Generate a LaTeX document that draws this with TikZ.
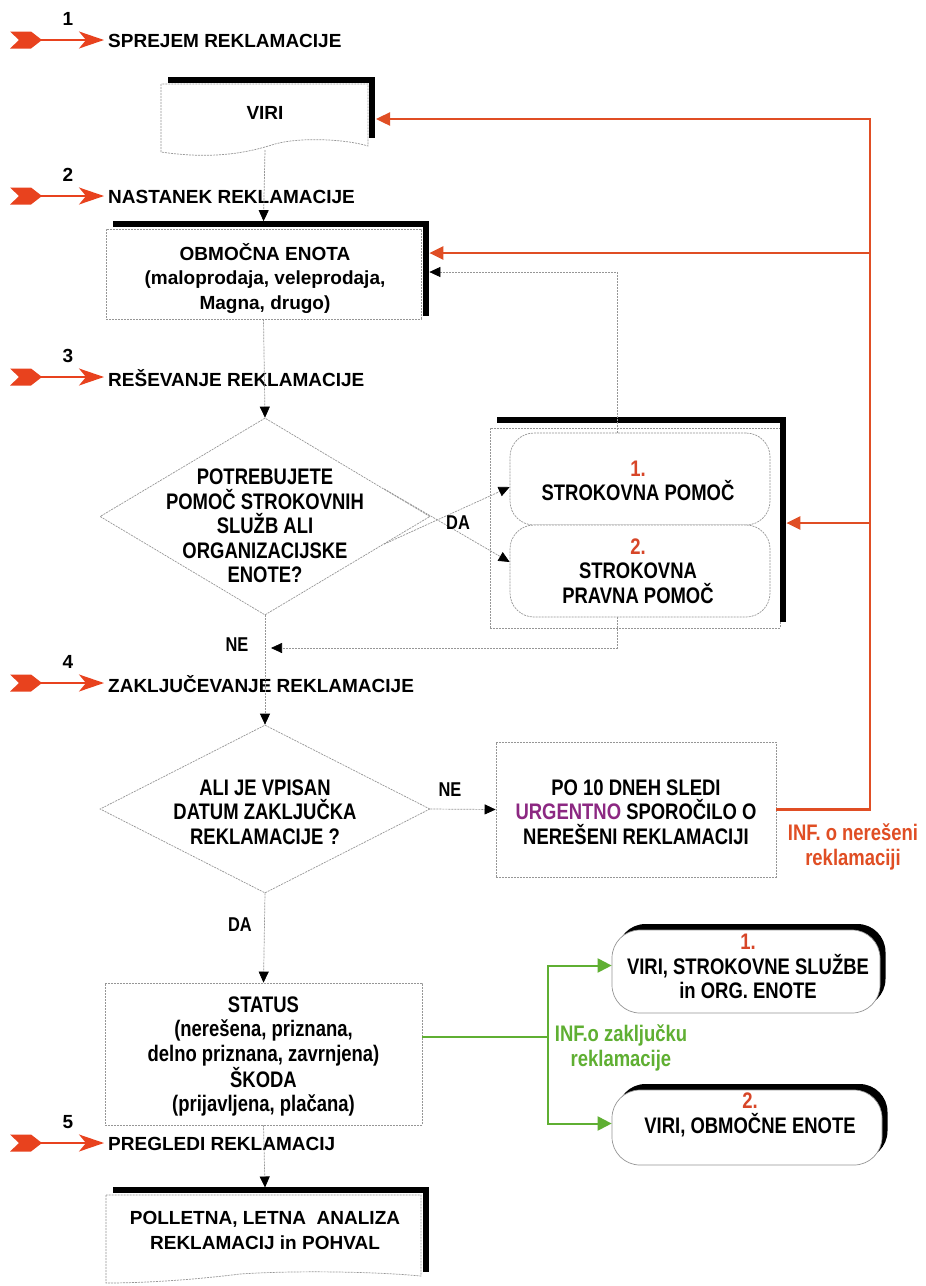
\documentclass[tikz,border=0pt]{standalone}
\usepackage{fontspec}
\setmainfont{Liberation Sans}
\newfontfamily\narrowfont[FakeStretch=0.82]{Liberation Sans}
\usetikzlibrary{arrows.meta,calc,shapes.geometric,shadows}
\definecolor{stepred}{RGB}{232,66,30}
\definecolor{fbred}{RGB}{224,78,36}
\definecolor{numred}{RGB}{215,70,40}
\definecolor{urgpurple}{RGB}{140,40,130}
\definecolor{infgreen}{RGB}{95,175,50}
\definecolor{thingray}{RGB}{150,150,150}
\begin{document}
\begin{tikzpicture}[x=1pt,y=-1pt,
  wide/.style={font=\fontsize{19}{24.5}\selectfont\bfseries, align=center, inner sep=0pt},
  nb/.style={font=\narrowfont\fontsize{22.5}{24.5}\selectfont\bfseries, align=center, inner sep=0pt},
  lbl/.style={font=\narrowfont\fontsize{20}{24}\selectfont\bfseries, align=center, inner sep=0pt},
  thinbox/.style={draw=thingray, line width=0.7pt, dash pattern=on 2pt off 1pt},
  conn/.style={draw=thingray, line width=0.7pt, dash pattern=on 2pt off 1pt, -{Triangle[length=11pt,width=10pt,color=black]}},
  heavy/.style={line width=5.5pt, line join=miter},
  fb/.style={draw=fbred, line width=2.4pt},
  fbarrow/.style={fb, -{Triangle[length=14pt,width=13pt]}},
  gr/.style={draw=infgreen, line width=2pt},
  grarrow/.style={gr, -{Triangle[length=14pt,width=14pt]}},
  rbox/.style={thinbox, rounded corners=24pt, fill=white},
  gbox/.style={draw=thingray, line width=0.7pt, rounded corners=28pt, fill=white,
     general shadow={fill=black, shadow xshift=5.5pt, shadow yshift=6pt}},
  diam/.style={thinbox, diamond, inner sep=0pt}
]
\useasboundingbox[fill=white] (0,0) rectangle (926,1286);

% ---- step markers ----
\foreach \n/\y/\t in {1/40/SPREJEM REKLAMACIJE, 2/196/NASTANEK REKLAMACIJE, 3/377/REŠEVANJE REKLAMACIJE, 4/683/ZAKLJUČEVANJE REKLAMACIJE, 5/1143/PREGLEDI REKLAMACIJ}{
  \fill[stepred] (10,\y-8.5) -- (31,\y-8.5) -- (42,\y) -- (31,\y+8.5) -- (10,\y+8.5) -- (19,\y) -- cycle;
  \coordinate (st\n) at (40,\y);
  \coordinate (sh\n) at (104,\y);
  \draw[stepred, line width=1.6pt, -{Stealth[length=25pt,width=17pt,inset=7pt]}] (st\n) -- (sh\n);
  \node[wide, anchor=west] (lab\n) at (108,\y+1) {\t};
  \node[wide] (num\n) at (68,\y-21) {\n};
}

% ---- VIRI document ----
\draw[thinbox] (161,84) -- (161,152) .. controls (215,160) and (250,152) .. (275,144) .. controls (300,137) and (345,139) .. (368,146) -- (368,84) -- cycle;
\draw[heavy] (168,80) -- (372,80) -- (372,138);
\node[wide] (viri) at (265,113) {VIRI};
\coordinate (viriB) at (265,150);
\coordinate (viriR) at (376,119);

% ---- OBMOCNA ENOTA ----
\node[thinbox, minimum width=315pt, minimum height=90pt] (obm) at (263.5,274) {};
\node[wide] (obmt) at (265,278) {OBMOČNA ENOTA\\(maloprodaja, veleprodaja,\\Magna, drugo)};
\draw[heavy] (113,224) -- (426,224) -- (426,316);
\draw[conn] (viriB) -- ([yshift=7.5pt]obm.north);

% ---- decision 1 ----
\node[diam, minimum width=330pt, minimum height=197pt] (d1) at (265,516.5) {};
\node[nb] (d1t) at (265,526) {POTREBUJETE\\POMOČ STROKOVNIH\\SLUŽB ALI\\ORGANIZACIJSKE\\ENOTE?};
\draw[conn] (obm.south) -- (d1.north);

% ---- help group ----
\node[thinbox, minimum width=290pt, minimum height=200pt] (grp) at (635,528) {};
\draw[heavy] (497,420) -- (783,420) -- (783,622);
\node[rbox, minimum width=260pt, minimum height=92pt] (box1) at (640,479) {};
\node[nb] (box1t) at (638,481) {\textcolor{numred}{1.}\\STROKOVNA POMOČ};
\node[rbox, minimum width=260pt, minimum height=92pt] (box2) at (640,571) {};
\node[nb] (box2t) at (638,571) {\textcolor{numred}{2.}\\STROKOVNA\\PRAVNA POMOČ};

\draw[conn] ($(d1.east)!0.28!(d1.south)$) -- ([yshift=-8pt]box1.west);
\draw[conn] ($(d1.east)!0.28!(d1.north)$) -- ([yshift=9pt]box2.west);
\node[lbl] (da1) at (458,523) {DA};

\draw[conn] ([xshift=-23pt]box1.north) |- ([xshift=8pt]obm.east |- 0,272);
\coordinate (jn) at (271,648);
\draw[conn] ([xshift=-23pt]box2.south) |- (jn);
\node[lbl] (ne1) at (237,645) {NE};

% ---- decision 2 ----
\node[diam, minimum width=330pt, minimum height=168pt] (d2) at (265,809) {};
\node[nb] (d2t) at (265,812) {ALI JE VPISAN\\DATUM ZAKLJUČKA\\REKLAMACIJE ?};
\draw[conn] (d1.south) -- (d2.north);

\node[thinbox, minimum width=280pt, minimum height=135pt] (urg) at (636,809.5) {};
\node[nb] (urgt) at (636,812) {PO 10 DNEH SLEDI\\\textcolor{urgpurple}{URGENTNO} SPOROČILO O\\NEREŠENI REKLAMACIJI};
\draw[conn] (d2.east) -- (urg.west);
\node[lbl] (ne2) at (450,790) {NE};

% ---- red feedback ----
\coordinate (fbtop) at (870,119);
\draw[fbarrow] (urg.east) -| (fbtop) -- (viriR);
\draw[fbarrow] (870,253) -- ([xshift=8pt]obm.east |- 0,253);
\draw[fbarrow] (870,523) -- ([xshift=6pt]grp.east |- 0,523);
\node[nb, text=fbred] (inf1) at (853,847) {INF. o nerešeni\\reklamaciji};

% ---- status ----
\node[thinbox, minimum width=317pt, minimum height=142pt] (status) at (263.5,1054) {};
\node[nb] (statust) at (263.5,1056.5) {STATUS\\(nerešena, priznana,\\delno priznana, zavrnjena)\\ŠKODA\\(prijavljena, plačana)};
\draw[conn] (d2.south) -- (status.north);
\node[lbl] (da2) at (240,925) {DA};

% ---- green branch ----
\node[gbox, minimum width=268pt, minimum height=83pt] (g1) at (746,971.5) {};
\node[nb] (g1t) at (748,966.5) {\textcolor{numred}{1.}\\VIRI, STROKOVNE SLUŽBE\\in ORG. ENOTE};
\node[gbox, minimum width=270pt, minimum height=75pt] (g2) at (747,1127.5) {};
\node[nb] (g2t) at (750,1115) {\textcolor{numred}{2.}\\VIRI, OBMOČNE ENOTE};
\coordinate (gj) at (548,1037);
\draw[gr] ([yshift=17pt]status.east) -- (gj);
\draw[grarrow] (gj) |- ([yshift=6pt]g1.west);
\draw[grarrow] (gj) |- ([yshift=4pt]g2.west);
\node[nb, text=infgreen] (inf2) at (621,1048) {INF.o zaključku\\reklamacije};

% ---- bottom document ----
\draw[thinbox] (106,1195) -- (106,1283) .. controls (150,1283) and (200,1279) .. (240,1274) .. controls (300,1270) and (380,1272) .. (421,1276) -- (421,1195) -- cycle;
\draw[heavy] (113,1190) -- (426,1190) -- (426,1272);
\node[wide] (pol) at (265,1230.5) {POLLETNA, LETNA\ \ ANALIZA\\REKLAMACIJ in POHVAL};
\coordinate (polTop) at (265,1187.5);
\draw[conn] (status.south) -- (polTop);
\end{tikzpicture}
\end{document}
